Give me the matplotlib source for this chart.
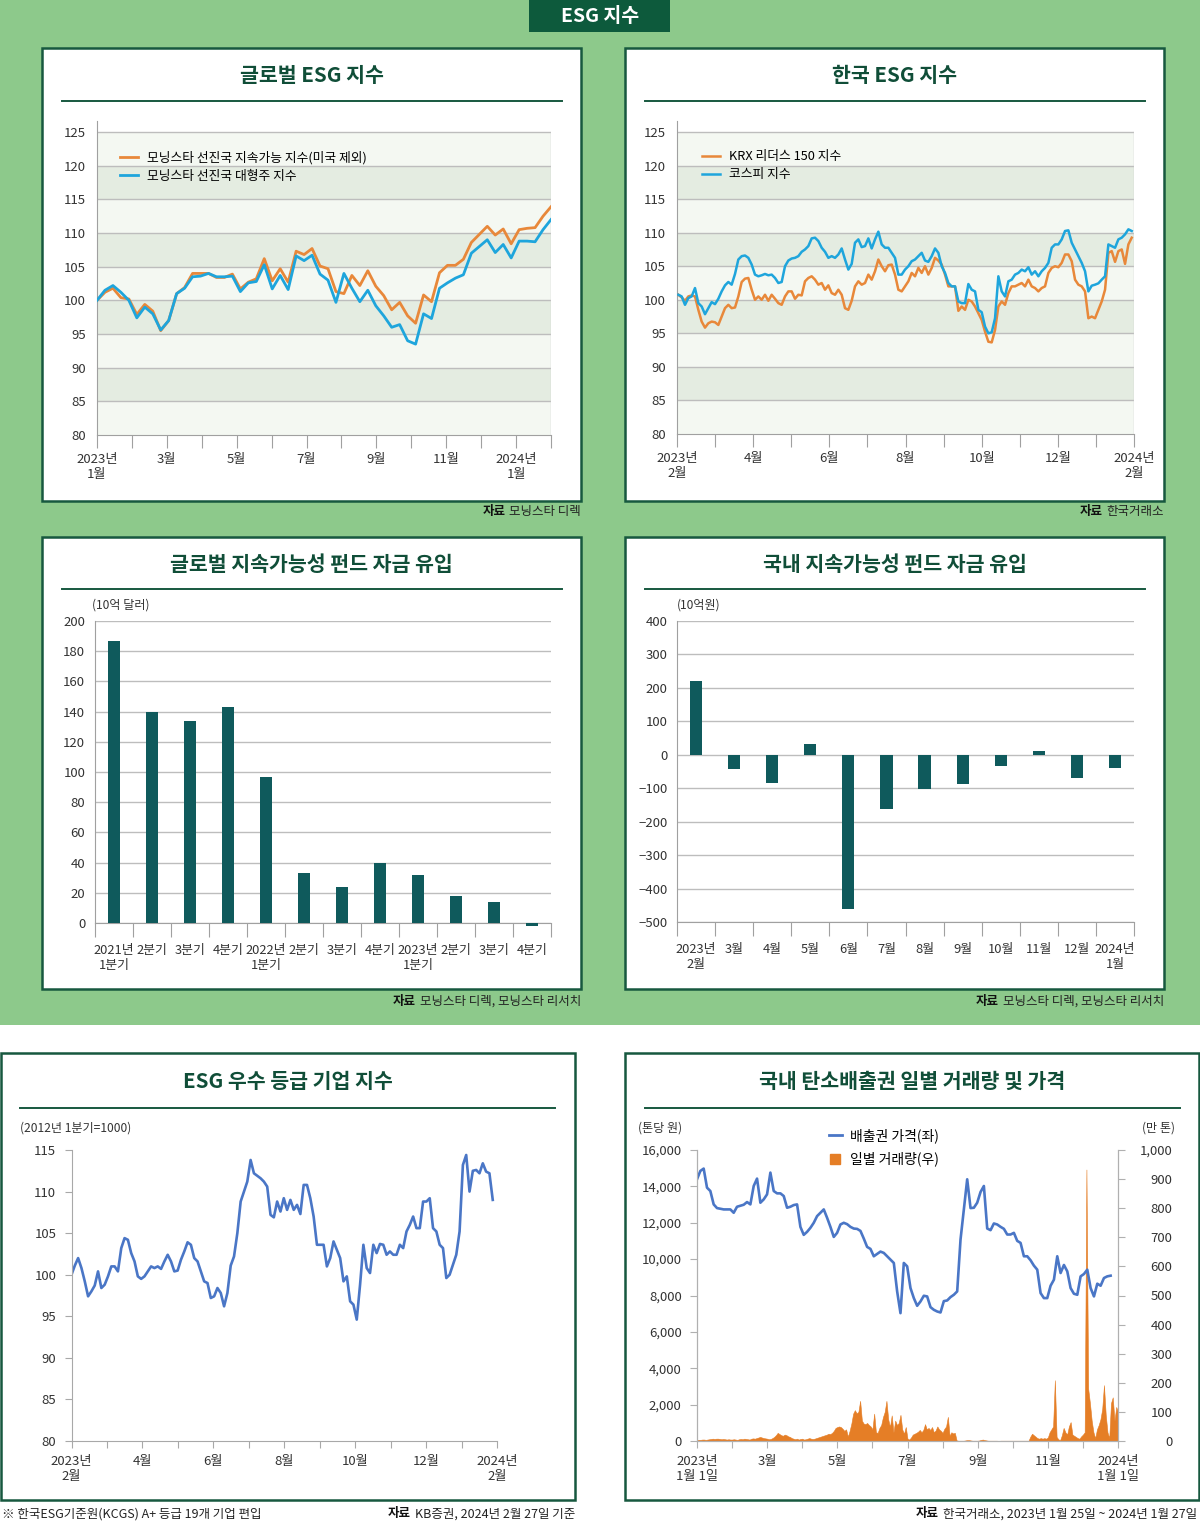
import matplotlib
matplotlib.use('Agg')
import matplotlib.pyplot as plt
import numpy as np
from matplotlib.patches import Rectangle
from matplotlib.lines import Line2D
from matplotlib.ticker import FuncFormatter

plt.rcParams['font.family'] = ['Noto Sans CJK KR', 'DejaVu Sans']

# ---------------- data ----------------
# 글로벌 ESG 지수 (weekly, 2023-01 .. 2024-02)
global_sust = [100.0, 101.2, 101.8, 100.4, 100.2, 97.9, 99.4, 98.4, 95.5, 97.0,
               101.0, 101.9, 104.0, 104.0, 104.0, 103.4, 103.4, 103.9, 101.7, 102.7,
               103.2, 106.2, 102.9, 104.7, 102.7, 107.3, 106.8, 107.7, 105.1, 104.7,
               101.3, 101.0, 103.7, 102.2, 104.4, 102.1, 100.7, 98.6, 99.7, 97.7,
               96.6, 100.8, 99.8, 104.1, 105.2, 105.2, 106.1, 108.6, 109.8, 111.0,
               109.7, 110.6, 108.4, 110.5, 110.7, 110.8, 112.5, 113.9]
global_large = [100.0, 101.5, 102.2, 101.2, 100.0, 97.4, 99.0, 98.0, 95.6, 97.0,
                101.0, 101.8, 103.5, 103.6, 104.0, 103.5, 103.5, 103.6, 101.3, 102.6,
                102.8, 105.3, 101.7, 103.7, 101.6, 106.6, 105.9, 106.7, 103.9, 103.0,
                99.7, 104.0, 101.8, 99.8, 101.5, 99.2, 97.7, 96.0, 96.4, 94.0,
                93.5, 98.0, 97.3, 101.8, 102.6, 103.3, 103.8, 107.0, 108.0, 109.0,
                107.1, 108.3, 106.3, 108.8, 108.8, 108.7, 110.5, 112.0]
global_labels = ['2023년\n1월', '', '3월', '', '5월', '', '7월', '', '9월', '',
                 '11월', '', '2024년\n1월', '']

# 한국 ESG 지수 (2023-02 .. 2024-02)
krx150 = [100.75, 100.35, 99.85, 100.5, 100.65, 100.5, 98.5, 96.75, 95.85, 96.5,
          96.75, 96.65, 96.25, 97.5, 98.75, 99.25, 98.75, 98.85, 100.5, 102.65,
          103.15, 103.25, 101.5, 100.0, 100.5, 100.0, 100.75, 99.85, 100.75, 100.15,
          99.5, 99.25, 100.5, 101.25, 101.25, 100.15, 100.75, 100.65, 102.75, 103.25,
          103.5, 103.0, 102.25, 102.5, 101.5, 102.15, 101.0, 100.75, 101.5, 100.75,
          98.75, 98.5, 99.85, 102.0, 102.75, 102.25, 102.5, 103.75, 103.0, 104.25,
          106.0, 105.0, 104.25, 105.15, 105.25, 103.75, 101.5, 101.25,
          102.0, 102.75, 104.0, 103.5, 104.75, 104.0, 105.0, 103.75, 104.75, 106.25,
          105.85, 105.25, 103.75, 102.0, 102.0, 102.0, 98.35, 99.0, 98.5, 100.0,
          99.75, 99.0, 98.0, 97.0, 95.25, 93.75, 93.65, 95.5, 99.0, 99.75,
          99.25, 101.0, 102.0, 102.0, 102.25, 102.5, 102.0, 103.0, 102.0, 101.75,
          101.25, 101.75, 102.0, 104.0, 104.75, 105.0, 104.85, 105.5, 106.75, 106.75,
          105.75, 103.0, 102.25, 102.0, 101.25, 97.25, 97.5, 97.25, 98.5, 99.75,
          101.5, 107.0, 107.25, 105.65, 107.25, 107.5, 105.35, 108.25, 109.25]
kospi = [100.75, 100.5, 99.25, 100.25, 100.5, 101.75, 99.5, 99.0, 97.85, 98.75,
         99.65, 99.35, 100.15, 101.25, 102.15, 102.65, 102.25, 103.85, 106.0, 106.5,
         106.6, 106.25, 105.25, 103.75, 103.5, 103.65, 103.85, 103.65, 103.75, 103.25,
         102.5, 102.65, 105.0, 105.85, 106.15, 106.25, 106.5, 107.15, 107.5, 108.0,
         109.15, 109.25, 108.75, 107.75, 107.15, 106.25, 106.5, 106.25, 106.75, 107.65,
         106.0, 104.5, 105.35, 108.5, 109.0, 107.85, 108.0, 109.15, 107.65, 109.0,
         110.15, 108.25, 107.75, 107.75, 107.0, 106.25, 103.75, 103.75,
         104.5, 105.0, 105.75, 106.0, 106.5, 107.0, 105.85, 105.65, 106.5, 107.65,
         107.0, 105.0, 104.0, 102.5, 102.0, 102.0, 99.75, 99.5, 99.5, 102.35,
         101.5, 101.25, 98.5, 98.15, 96.0, 95.0, 95.15, 97.25, 103.5, 101.25,
         100.5, 102.75, 103.0, 103.75, 104.0, 104.5, 104.25, 104.85, 103.75, 104.25,
         103.5, 104.25, 104.75, 105.5, 107.75, 108.25, 108.25, 109.0, 110.25, 110.35,
         108.5, 107.5, 106.5, 105.5, 104.25, 101.25, 102.1, 102.25, 102.45, 103.0,
         103.5, 108.25, 108.0, 107.75, 109.0, 109.25, 109.75, 110.5, 110.25]
korea_labels = ['2023년\n2월', '', '4월', '', '6월', '', '8월', '', '10월', '',
                '12월', '', '2024년\n2월']

# 글로벌 지속가능성 펀드 자금 유입 (10억 달러)
quarters = ['2021년\n1분기', '2분기', '3분기', '4분기', '2022년\n1분기', '2분기',
            '3분기', '4분기', '2023년\n1분기', '2분기', '3분기', '4분기']
global_flow = [187, 140, 134, 143, 97, 33, 24, 40, 32, 18, 14, -2]

# 국내 지속가능성 펀드 자금 유입 (10억원)
months_kr = ['2023년\n2월', '3월', '4월', '5월', '6월', '7월', '8월', '9월',
             '10월', '11월', '12월', '2024년\n1월']
korea_flow = [220, -43, -85, 32, -462, -162, -103, -87, -33, 10, -70, -40]

# ESG 우수 등급 기업 지수
esg_top = [100.0, 101.1, 102.0, 100.8, 99.2, 97.4, 98.0, 98.7, 100.4, 98.4,
           98.8, 99.8, 101.0, 101.0, 100.4, 103.2, 104.4, 104.2, 102.6, 101.6,
           99.8, 99.5, 99.8, 100.4, 101.0, 100.8, 101.0, 100.7, 101.6, 102.4,
           101.6, 100.4, 100.5, 101.8, 102.8, 103.9, 103.6, 102.0, 101.6, 100.4,
           99.2, 99.0, 97.2, 97.4, 98.4, 97.8, 96.2, 97.8, 101.1, 102.2,
           105.0, 108.8, 110.0, 111.2, 113.8, 112.2, 111.9, 111.6, 111.2, 110.6,
           107.2, 106.9, 108.8,
           107.6, 109.2, 107.8, 109.0, 107.8, 108.4, 107.3, 110.8, 110.8, 109.2,
           107.0, 103.6, 103.6, 103.6, 101.0, 102.0, 104.0, 103.0, 102.0, 99.2,
           99.8, 96.8, 96.4, 94.6, 98.8, 103.6, 100.8, 100.2, 103.6, 102.6,
           103.7, 103.6, 102.4, 102.8, 102.4, 102.4, 103.6, 103.2, 105.2, 106.0,
           107.0, 105.6, 105.6, 108.8, 108.8, 109.2, 105.6, 105.2, 103.6, 103.2,
           99.6, 100.0, 101.2, 102.4, 105.2, 113.2, 114.4, 110.0, 112.5, 112.6,
           112.2, 113.4, 112.4, 112.2, 109.0]

# 국내 탄소배출권 가격 (톤당 원)
carbon_price = [14389, 14849, 14978, 13929, 13745, 13009, 12806, 12770, 12733, 12733,
                12733, 12549, 12880, 12935, 12990, 13138, 13009, 14021, 14426, 13101,
                13285, 13561, 14757, 13745, 13616, 13616, 13469, 12825, 12880, 12972,
                13009, 11773, 11334, 11500, 11721, 11997, 12365, 12549, 12733, 12273,
                11773, 11221, 11445, 11905, 11997, 11923, 11773, 11681, 11662, 11552,
                11129, 10672, 10562, 10157, 10286, 10414, 10341, 10157, 9973, 9789,
                8225, 7029,
                9789, 9605, 8409, 7857, 7434, 7673, 7986, 7949, 7360, 7213,
                7121, 7066, 7691, 7728, 7912, 8041, 8225, 11077, 12733, 14389,
                12806, 12825, 13101, 13690, 14021, 11684, 11592, 11960, 11905, 11776,
                11666, 11353, 11353, 11445, 11003, 10893, 10157, 10157, 9936, 9642,
                9421, 8133, 7857, 7857, 8538, 8869, 10157, 9237, 9678, 9329,
                8409, 8096, 8041, 9053, 9182, 9421, 8409, 7949, 8648, 8538,
                8961, 9053, 9090]

# 일별 거래량 (만 톤), 2023-01 .. 2024-01
carbon_volume = [3, 4, 4, 5, 5, 4, 5, 6, 7, 8, 7, 8, 8, 7, 6, 7, 6, 5, 6, 5,
                 5, 6, 5, 4, 6, 7, 6, 8, 7, 6, 5, 8, 9, 8, 10, 12, 14, 12, 10, 9,
                 8, 6, 7, 10, 14, 20, 28, 24, 20, 18, 22, 20, 16, 14, 10, 8, 6, 8, 5, 7,
                 8, 5, 6, 8, 10, 8, 7, 8, 10, 12, 14, 16, 18, 20, 22, 25, 24, 28, 35, 45,
                 48, 50, 48, 42, 35, 40, 15, 35, 60, 94, 106, 95, 100, 138, 70, 60, 58, 62, 55, 50,
                 40, 94, 30, 28, 45, 55, 82, 100, 138, 75, 48, 88, 30, 70, 55, 62, 90, 40, 25, 48,
                 8, 5, 12, 22, 25, 28, 32, 38, 30, 38, 58, 40, 45, 38, 48, 30, 36, 50, 40, 35,
                 28, 42, 50, 83, 18, 30, 26, 28, 2, 1, 1, 1, 1, 2, 3, 3, 2, 1, 1, 1,
                 1, 2, 4, 5, 3, 2, 1, 1, 1, 1, 1, 1, 0, 1, 1, 1, 1, 1, 1, 1,
                 1, 1, 1, 1, 1, 1, 1, 1, 1, 1, 15, 25, 20, 15, 10, 8, 10, 8, 10, 8,
                 12, 30, 40, 50, 209, 14, 6, 3, 20, 45, 30, 22, 50, 65, 22, 18, 14, 10, 8, 16,
                 22, 30, 933, 180, 130, 70, 30, 10, 40, 55, 75, 110, 192, 90, 30, 10, 130, 150, 70, 117,
                 100]
carbon_labels = ['2023년\n1월 1일', '', '3월', '', '5월', '', '7월', '', '9월', '',
                 '11월', '', '2024년\n1월 1일']

# ---------------- style ----------------
GREEN_BG = '#8dc98b'
DARK = '#17583f'
TITLE = '#104e38'
ORANGE = '#e8883a'
SKY = '#1ea5dc'
TEAL = '#0f5a5c'
BLUE = '#4a76c6'
VOL = '#e57e26'
GRID = '#bdbdbd'
TXT = '#333333'
BAND_D = '#e4ece1'
BAND_L = '#f4f8f2'

W, H = 1200, 1522
fig = plt.figure(figsize=(W / 100, H / 100), dpi=100)


def rect(x0, y0, x1, y1):
    return [x0 / W, 1 - y1 / H, (x1 - x0) / W, (y1 - y0) / H]


def fx(x):
    return x / W


def fy(y):
    return 1 - y / H


def box(x0, y0, x1, y1, face, edge=None, lw=0, z=-1):
    fig.add_artist(Rectangle((fx(x0), fy(y1)), (x1 - x0) / W, (y1 - y0) / H,
                             transform=fig.transFigure, facecolor=face,
                             edgecolor=edge if edge else face, linewidth=lw, zorder=z))


def panel(x0, y0, x1, y1, title, ly, lx0, lx1):
    box(x0, y0, x1, y1, 'white', DARK, 1.8, -1)
    fig.text(fx((x0 + x1) / 2), fy(y0 + 28), title, ha='center', va='center',
             fontsize=14.8, fontweight='bold', color=TITLE)
    fig.add_artist(Line2D([fx(lx0), fx(lx1)], [fy(ly), fy(ly)],
                          transform=fig.transFigure, color=DARK, lw=1.4))


def source(xr, y, rest):
    t = fig.text(fx(xr), fy(y), rest, ha='right', va='center', fontsize=9, color='#222222')
    bb = t.get_window_extent(fig.canvas.get_renderer())
    fig.text((bb.x0 - 4) / W, fy(y), '자료', ha='right', va='center',
             fontsize=9, fontweight='bold', color='#111111')


# background
box(0, 0, 1200, 1025, GREEN_BG, z=-3)
box(529, 0, 670, 32, '#0d5a3c', z=-2)
fig.text(fx(600), fy(16), 'ESG 지수', ha='center', va='center', fontsize=14,
         fontweight='bold', color='white')


def band_axes(ax, nmonths, labels):
    ax.set_facecolor('none')
    ax.set_xlim(0, nmonths)
    ax.set_ylim(80, 126.7)
    for lo in range(80, 125, 5):
        ax.axhspan(lo, lo + 5, color=BAND_D if (lo // 5) % 2 else BAND_L, lw=0, zorder=0)
    for v in range(85, 126, 5):
        ax.axhline(v, color=GRID, lw=1, zorder=1)
    ax.plot([nmonths, nmonths], [80, 125], color='#cfcfcf', lw=1, zorder=1)
    for s in ['top', 'right']:
        ax.spines[s].set_visible(False)
    for s in ['left', 'bottom']:
        ax.spines[s].set_color('#a0a0a0')
    ax.set_xticks(range(nmonths + 1))
    ax.set_xticklabels(labels)
    ax.set_yticks(range(80, 126, 5))
    ax.tick_params(axis='x', length=9, color='#a0a0a0', labelsize=9.5, labelcolor=TXT, pad=4)
    ax.tick_params(axis='y', length=0, labelsize=9.5, labelcolor=TXT, pad=8)


def line_legend(ax, handles, names, x, y):
    ax.legend(handles, names, loc='upper left', bbox_to_anchor=(fx(x), fy(y)),
              bbox_transform=fig.transFigure, frameon=False, fontsize=9.2,
              handlelength=1.4, handletextpad=0.75, labelspacing=0.43,
              borderpad=0, borderaxespad=0)


# ---- 1. 글로벌 ESG 지수 ----
panel(42, 48, 581, 501, '글로벌 ESG 지수', 101, 62, 562)
ax1 = fig.add_axes(rect(97, 120.6, 551, 435))
band_axes(ax1, 13, global_labels)
t1 = np.linspace(0, 13, len(global_sust))
l1, = ax1.plot(t1, global_sust, color=ORANGE, lw=2, zorder=3)
l2, = ax1.plot(t1, global_large, color=SKY, lw=2, zorder=3)
line_legend(ax1, [l1, l2], ['모닝스타 선진국 지속가능 지수(미국 제외)', '모닝스타 선진국 대형주 지수'],
            120, 151)
source(581, 511, '모닝스타 디렉')

# ---- 2. 한국 ESG 지수 ----
panel(625, 48, 1164, 501, '한국 ESG 지수', 101, 645, 1145)
ax2 = fig.add_axes(rect(677, 120.6, 1134, 434))
band_axes(ax2, 12, korea_labels)
t2 = np.linspace(0.035, 11.94, len(krx150))
k1, = ax2.plot(t2, krx150, color=ORANGE, lw=1.8, zorder=3)
k2, = ax2.plot(t2, kospi, color=SKY, lw=1.8, zorder=3)
line_legend(ax2, [k1, k2], ['KRX 리더스 150 지수', '코스피 지수'], 702, 150)
source(1164, 511, '한국거래소')


def bar_axes(ax, values, labels, ylo, yhi, step):
    n = len(values)
    ax.set_xlim(0, n)
    ax.set_ylim(ylo, yhi)
    ax.bar(np.arange(n) + 0.5, values, width=0.32, color=TEAL, zorder=3, clip_on=False)
    ax.set_yticks(range(ylo, yhi + 1, step))
    ax.grid(axis='y', color=GRID, lw=1, zorder=0)
    ax.set_axisbelow(True)
    for s in ['top', 'right']:
        ax.spines[s].set_visible(False)
    for s in ['left', 'bottom']:
        ax.spines[s].set_color('#a0a0a0')
    ax.set_xticks(range(n + 1))
    ax.set_xticklabels([])
    ax.set_xticks(np.arange(n) + 0.5, minor=True)
    ax.set_xticklabels(labels, minor=True)
    ax.tick_params(axis='x', which='major', length=10, color='#a0a0a0')
    ax.tick_params(axis='x', which='minor', length=0, labelsize=9.3, labelcolor=TXT, pad=15)
    ax.tick_params(axis='y', length=0, labelsize=9.5, labelcolor=TXT, pad=7)


# ---- 3. 글로벌 지속가능성 펀드 자금 유입 ----
panel(42, 537, 581, 989, '글로벌 지속가능성 펀드 자금 유입', 589, 62, 562)
fig.text(fx(92), fy(605), '(10억 달러)', ha='left', va='center', fontsize=8.7, color=TXT)
ax3 = fig.add_axes(rect(95, 621, 551, 923))
bar_axes(ax3, global_flow, quarters, 0, 200, 20)
source(581, 1001, '모닝스타 디렉, 모닝스타 리서치')

# ---- 4. 국내 지속가능성 펀드 자금 유입 ----
panel(625, 537, 1164, 989, '국내 지속가능성 펀드 자금 유입', 589, 645, 1145)
fig.text(fx(677), fy(605), '(10억원)', ha='left', va='center', fontsize=8.7, color=TXT)
ax4 = fig.add_axes(rect(677, 621, 1134, 922))
bar_axes(ax4, korea_flow, months_kr, -500, 400, 100)
source(1164, 1001, '모닝스타 디렉, 모닝스타 리서치')

# ---- 5. ESG 우수 등급 기업 지수 ----
panel(1, 1053, 575, 1500, 'ESG 우수 등급 기업 지수', 1108, 20, 555)
fig.text(fx(20), fy(1128), '(2012년 1분기=1000)', ha='left', va='center', fontsize=8.7, color=TXT)
ax5 = fig.add_axes(rect(71.5, 1150, 497, 1441))
ax5.set_xlim(0, 12)
ax5.set_ylim(80, 115)
t5 = np.linspace(0, 11.88, len(esg_top))
ax5.plot(t5, esg_top, color=BLUE, lw=1.9)
for s in ['top', 'right']:
    ax5.spines[s].set_visible(False)
for s in ['left', 'bottom']:
    ax5.spines[s].set_color('#a8a8a8')
ax5.set_xticks(range(13))
ax5.set_xticklabels(korea_labels)
ax5.set_yticks(range(80, 116, 5))
ax5.tick_params(axis='both', length=5, color='#a8a8a8', labelsize=9.5, labelcolor=TXT)
ax5.tick_params(axis='x', pad=5)
ax5.tick_params(axis='y', pad=6)
fig.text(fx(2), fy(1514), '※ 한국ESG기준원(KCGS) A+ 등급 19개 기업 편입', ha='left', va='center',
         fontsize=9, color='#222222')
source(575, 1514, 'KB증권, 2024년 2월 27일 기준')

# ---- 6. 국내 탄소배출권 일별 거래량 및 가격 ----
panel(625, 1053, 1199, 1500, '국내 탄소배출권 일별 거래량 및 가격', 1108, 645, 1180)
fig.text(fx(638), fy(1128), '(톤당 원)', ha='left', va='center', fontsize=8.7, color=TXT)
fig.text(fx(1175), fy(1128), '(만 톤)', ha='right', va='center', fontsize=8.7, color=TXT)
ax6 = fig.add_axes(rect(697, 1150, 1118, 1441))
ax6b = ax6.twinx()
ax6.set_zorder(ax6b.get_zorder() + 1)
ax6.patch.set_visible(False)
ax6.set_xlim(0, 12)
ax6.set_ylim(0, 16000)
ax6b.set_ylim(0, 1000)
tv = np.linspace(0, 12, len(carbon_volume))
ax6b.fill_between(tv, 0, carbon_volume, color=VOL, lw=0.4, edgecolor=VOL)
tp = np.linspace(0, 11.79, len(carbon_price))
ax6.plot(tp, carbon_price, color=BLUE, lw=1.9)
for a in [ax6, ax6b]:
    a.spines['top'].set_visible(False)
    for s in ['left', 'right', 'bottom']:
        a.spines[s].set_color('#b0b0b0')
ax6.set_xticks(range(13))
ax6.set_xticklabels(carbon_labels)
ax6.set_yticks(range(0, 16001, 2000))
ax6.yaxis.set_major_formatter(FuncFormatter(lambda v, p: f'{int(v):,}'))
ax6b.set_yticks(range(0, 1001, 100))
ax6b.yaxis.set_major_formatter(FuncFormatter(lambda v, p: f'{int(v):,}'))
ax6.tick_params(axis='both', length=5, color='#b0b0b0', labelsize=9.5, labelcolor=TXT)
ax6.tick_params(axis='x', pad=5)
ax6.tick_params(axis='y', pad=6)
ax6b.tick_params(axis='y', length=5, color='#b0b0b0', labelsize=9.5, labelcolor=TXT, pad=34)
for lab in ax6b.get_yticklabels():
    lab.set_horizontalalignment('right')
h1 = Line2D([], [], color=BLUE, lw=2)
h2 = Line2D([], [], color=VOL, marker='s', markersize=7, linestyle='none')
ax6.legend([h1, h2], ['배출권 가격(좌)', '일별 거래량(우)'], loc='upper left',
           bbox_to_anchor=(fx(829), fy(1128)), bbox_transform=fig.transFigure,
           frameon=False, fontsize=10, handlelength=0.9, handletextpad=0.6,
           labelspacing=0.65, borderpad=0, borderaxespad=0)
source(1197, 1514, '한국거래소, 2023년 1월 25일 ~ 2024년 1월 27일')

fig.savefig('out.png', dpi=100)
